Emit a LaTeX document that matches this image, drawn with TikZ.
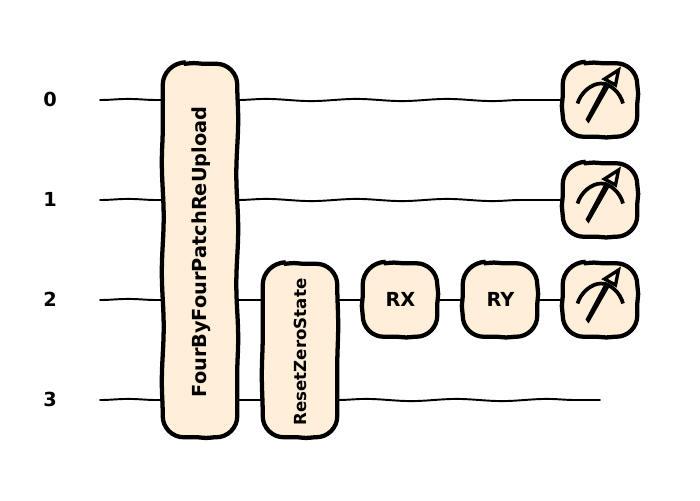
\documentclass[tikz,border=0pt]{standalone}
\usepackage{fontspec}
\setmainfont{DejaVu Sans}
\usetikzlibrary{calc,decorations.pathmorphing}
\definecolor{gatefill}{HTML}{FFEFD8}
\tikzset{
  x=.75pt,y=-.75pt,
  wire/.style={line width=1.45pt,line cap=round,decorate,decoration={snake,amplitude=.8pt,segment length=68pt}},
  edgebox/.style={line width=3.2pt,draw=black,fill=gatefill,line join=round},
  anchorbox/.style={rectangle,inner sep=0pt,draw=none,fill=none},
  lbl/.style={text=black,inner sep=0pt},
  bigfont/.style={font=\fontsize{14.5pt}{17pt}\bfseries},
  smallfont/.style={font=\fontsize{12.5pt}{15pt}\bfseries},
  meterline/.style={line width=2.8pt,line cap=butt,draw=black},
}
% name, x-centre, y-centre, width, height
\newcommand{\wobblebox}[5]{%
  \pgfmathsetmacro{\xa}{#2-#4/2}\pgfmathsetmacro{\xb}{#2+#4/2}%
  \pgfmathsetmacro{\ya}{#3-#5/2}\pgfmathsetmacro{\yb}{#3+#5/2}%
  \pgfmathsetmacro{\rr}{21}\pgfmathsetmacro{\kk}{9.5}%
  \pgfmathsetmacro{\lenh}{(#4-2*\rr)*.75}%
  \pgfmathsetmacro{\lenv}{(#5-2*\rr)*.75}%
  \pgfmathsetmacro{\segh}{\lenh/max(1,round(\lenh/85))*.995}%
  \pgfmathsetmacro{\segv}{\lenv/max(1,round(\lenv/85))*.995}%
  \path[edgebox] (\xa+\rr,\ya)
    decorate[decoration={snake,amplitude=.5pt,segment length=\segh pt}]{-- (\xb-\rr,\ya)}
    .. controls (\xb-\kk,\ya) and (\xb,\ya+\kk) .. (\xb,\ya+\rr)
    decorate[decoration={snake,amplitude=.7pt,segment length=\segv pt}]{-- (\xb,\yb-\rr)}
    .. controls (\xb,\yb-\kk) and (\xb-\kk,\yb) .. (\xb-\rr,\yb)
    decorate[decoration={snake,amplitude=.5pt,segment length=\segh pt}]{-- (\xa+\rr,\yb)}
    .. controls (\xa+\kk,\yb) and (\xa,\yb-\kk) .. (\xa,\yb-\rr)
    decorate[decoration={snake,amplitude=.7pt,segment length=\segv pt}]{-- (\xa,\ya+\rr)}
    .. controls (\xa,\ya+\kk) and (\xa+\kk,\ya-1) .. (\xa+\rr+2,\ya-1.5);
  \node[anchorbox,minimum width=#4*.75pt,minimum height=#5*.75pt] (#1) at (#2,#3) {};%
}
% meter drawn relative to the centre of a named box
\newcommand{\meterglyph}[1]{%
  \draw[meterline] ($(#1)+(-22.5,3.5)$) .. controls ($(#1)+(-19,-8)$) and ($(#1)+(-8,-16.5)$) .. ($(#1)+(1,-16.5)$)
     .. controls ($(#1)+(10,-16.5)$) and ($(#1)+(20,-8)$) .. ($(#1)+(23,3.5)$);
  \fill[black] ($(#1)+(-14.5,19.5)$) -- ($(#1)+(-11.5,23.5)$) -- ($(#1)+(10.5,-15)$) -- ($(#1)+(5.5,-18)$) -- cycle;
  \draw[line width=2.5pt,fill=gatefill,line join=miter] ($(#1)+(18.5,-30)$) -- ($(#1)+(4.5,-21)$) -- ($(#1)+(15.5,-15)$) -- cycle;
}
\begin{document}
\begin{tikzpicture}
\useasboundingbox (0,0) rectangle (700,500);

\node[lbl,bigfont] (q0) at (50,99.5) {0};
\node[lbl,bigfont] (q1) at (50,199.5) {1};
\node[lbl,bigfont] (q2) at (50,299.5) {2};
\node[lbl,bigfont] (q3) at (50,399.5) {3};
\coordinate (w0) at (100,100);
\coordinate (w1) at (100,200);
\coordinate (w2) at (100,300);
\coordinate (w3) at (100,400);
\coordinate (e3) at (600,400);

\wobblebox{big}{200}{250.5}{74.5}{373.5}
\wobblebox{reset}{300}{350.5}{74.5}{173.5}
\wobblebox{rx}{400}{300}{74.5}{73.5}
\wobblebox{ry}{500}{300}{74.5}{73.5}
\wobblebox{m0}{600}{100}{74.5}{73.5}
\wobblebox{m1}{600}{200}{74.5}{73.5}
\wobblebox{m2}{600}{300}{74.5}{73.5}

\node[lbl,rotate=90,bigfont] (bigtext) at (201,252) {FourByFourPatchReUpload};
\node[lbl,rotate=90,smallfont] (resettext) at (300,352) {ResetZeroState};
\node[lbl,bigfont] (rxtext) at (400.5,299.5) {RX};
\node[lbl,bigfont] (rytext) at (500.5,299.5) {RY};
\meterglyph{m0}
\meterglyph{m1}
\meterglyph{m2}

\draw[wire] (w0) -- (big.west |- w0);
\draw[wire] (w1) -- (big.west |- w1);
\draw[wire] (w2) -- (big.west |- w2);
\draw[wire] (w3) -- (big.west |- w3);
\draw[wire] (big.east |- w0) -- (m0.west);
\draw[wire] (big.east |- w1) -- (m1.west);
\draw[wire] (big.east |- w2) -- (reset.west |- w2);
\draw[wire] (big.east |- w3) -- (reset.west |- w3);
\draw[wire] (reset.east |- w2) -- (rx.west);
\draw[wire] (rx.east) -- (ry.west);
\draw[wire] (ry.east) -- (m2.west);
\draw[wire] (reset.east |- w3) -- (e3);
\end{tikzpicture}
\end{document}
